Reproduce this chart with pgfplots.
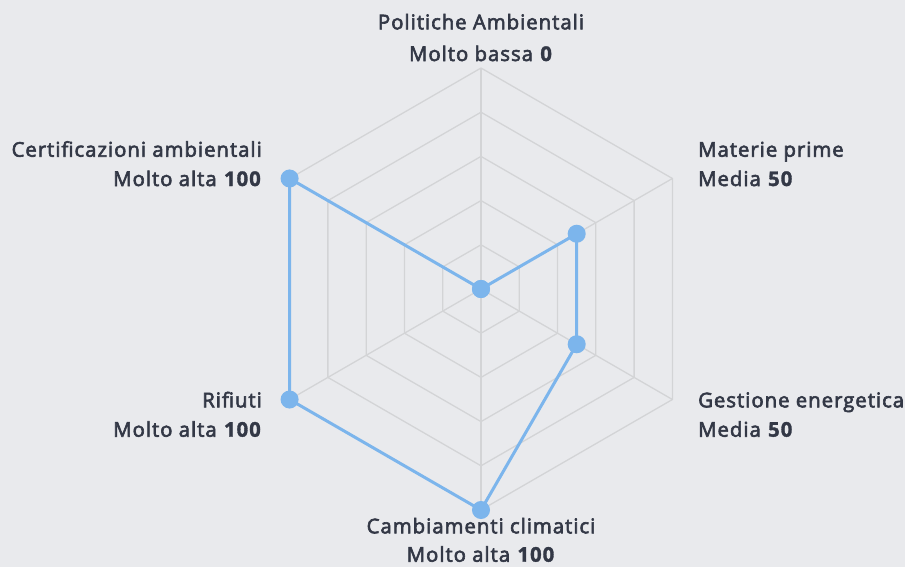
\documentclass[border=0pt]{standalone}
\usepackage{pgfplots}
\pgfplotsset{compat=1.18}
\usepackage{fontspec}
\setmainfont{Open Sans}[UprightFeatures={FakeBold=3}, BoldFeatures={FakeBold=1.5}, LetterSpace=5]
\definecolor{bgc}{HTML}{E9EAED}
\definecolor{txt}{HTML}{333846}
\definecolor{linec}{HTML}{7CB5EC}
\definecolor{gridc}{HTML}{D3D4D6}
\begin{document}
\begin{tikzpicture}
\fill[bgc] (0,-567bp) rectangle (905bp,0);
\begin{axis}[at={(481bp,-289bp)}, anchor=origin, x=2.21bp, y=2.21bp,
  hide axis, clip=false, xmin=-100, xmax=100, ymin=-100, ymax=100,
  every axis plot/.append style={data cs=polar}]
\pgfplotsinvokeforeach{20,40,60,80,100}{
  \addplot[gridc, line width=1.3bp, mark=none] coordinates {(90,#1)(30,#1)(-30,#1)(-90,#1)(-150,#1)(150,#1)(90,#1)};
}
\pgfplotsinvokeforeach{90,30,-30,-90,-150,150}{
  \addplot[gridc, line width=1.3bp, mark=none] coordinates {(#1,0)(#1,100)};
}
\addplot[linec, line width=3bp, mark=*, mark size=7.5bp, mark options={fill=linec, draw=none}]
  coordinates {(90,0)(30,50)(-30,50)(-90,100)(-150,100)(150,100)(90,0)};
\end{axis}
\begin{scope}[every node/.style={text=txt, font=\fontsize{20.3bp}{24bp}\selectfont, inner sep=0pt}]
\node[anchor=base] at (481bp,-29.3bp) {Politiche Ambientali};
\node[anchor=base] at (481bp,-61bp) {Molto bassa \textbf{0}};
\node[anchor=base west] at (698bp,-156.7bp) {Materie prime};
\node[anchor=base west] at (698bp,-186bp) {Media \textbf{50}};
\node[anchor=base west] at (698bp,-407.3bp) {Gestione energetica};
\node[anchor=base west] at (698bp,-436.7bp) {Media \textbf{50}};
\node[anchor=base] at (481bp,-533.3bp) {Cambiamenti climatici};
\node[anchor=base] at (481bp,-561.7bp) {Molto alta \textbf{100}};
\node[anchor=base east] at (262bp,-407.3bp) {Rifiuti};
\node[anchor=base east] at (262bp,-436.7bp) {Molto alta \textbf{100}};
\node[anchor=base east] at (262bp,-156.7bp) {Certificazioni ambientali};
\node[anchor=base east] at (262bp,-186bp) {Molto alta \textbf{100}};
\end{scope}
\pgfresetboundingbox
\useasboundingbox (0,-567bp) rectangle (905bp,0);
\end{tikzpicture}
\end{document}
